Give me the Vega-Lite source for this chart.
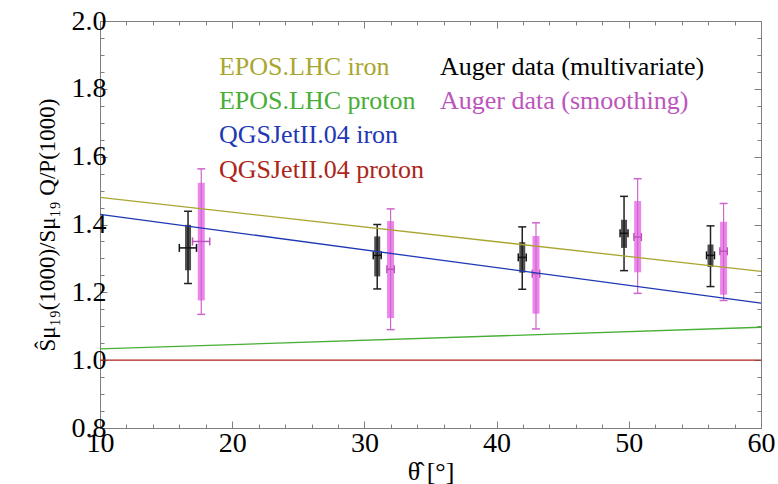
{
  "$schema": "https://vega.github.io/schema/vega-lite/v6.json",
  "width": 661,
  "height": 407,
  "autosize": {"type": "none"},
  "padding": {"left": 100, "top": 21, "right": 17, "bottom": 56},
  "background": "white",
  "config": {
    "view": {"stroke": "#7f7f7f", "strokeWidth": 1},
    "font": "Liberation Serif",
    "axis": {"labelFont": "Liberation Serif", "titleFont": "Liberation Serif"},
    "text": {"font": "Liberation Serif"}
  },
  "datasets": {
    "models": [
      {"model": "EPOS.LHC iron", "theta": 10, "ratio": 1.48},
      {"model": "EPOS.LHC iron", "theta": 60, "ratio": 1.262},
      {"model": "EPOS.LHC proton", "theta": 10, "ratio": 1.033},
      {"model": "EPOS.LHC proton", "theta": 60, "ratio": 1.097},
      {"model": "QGSJetII.04 iron", "theta": 10, "ratio": 1.43},
      {"model": "QGSJetII.04 iron", "theta": 60, "ratio": 1.168},
      {"model": "QGSJetII.04 proton", "theta": 10, "ratio": 1.0},
      {"model": "QGSJetII.04 proton", "theta": 60, "ratio": 1.0}
    ],
    "auger": [
      {"set": "multivariate", "theta": 16.66, "val": 1.331, "sys_lo": 1.265, "sys_hi": 1.399, "tot_lo": 1.226, "tot_hi": 1.439, "th_lo": 16.0, "th_hi": 17.3},
      {"set": "multivariate", "theta": 30.97, "val": 1.309, "sys_lo": 1.247, "sys_hi": 1.365, "tot_lo": 1.21, "tot_hi": 1.40, "th_lo": 30.67, "th_hi": 31.27},
      {"set": "multivariate", "theta": 41.94, "val": 1.303, "sys_lo": 1.258, "sys_hi": 1.348, "tot_lo": 1.209, "tot_hi": 1.393, "th_lo": 41.64, "th_hi": 42.24},
      {"set": "multivariate", "theta": 49.64, "val": 1.374, "sys_lo": 1.331, "sys_hi": 1.414, "tot_lo": 1.264, "tot_hi": 1.483, "th_lo": 49.34, "th_hi": 49.94},
      {"set": "multivariate", "theta": 56.18, "val": 1.309, "sys_lo": 1.275, "sys_hi": 1.341, "tot_lo": 1.217, "tot_hi": 1.396, "th_lo": 55.88, "th_hi": 56.48},
      {"set": "smoothing", "theta": 17.66, "val": 1.35, "sys_lo": 1.176, "sys_hi": 1.523, "tot_lo": 1.135, "tot_hi": 1.564, "th_lo": 17.0, "th_hi": 18.3},
      {"set": "smoothing", "theta": 31.98, "val": 1.268, "sys_lo": 1.124, "sys_hi": 1.41, "tot_lo": 1.09, "tot_hi": 1.446, "th_lo": 31.7, "th_hi": 32.26},
      {"set": "smoothing", "theta": 42.98, "val": 1.255, "sys_lo": 1.137, "sys_hi": 1.366, "tot_lo": 1.092, "tot_hi": 1.405, "th_lo": 42.7, "th_hi": 43.26},
      {"set": "smoothing", "theta": 50.67, "val": 1.363, "sys_lo": 1.259, "sys_hi": 1.469, "tot_lo": 1.197, "tot_hi": 1.535, "th_lo": 50.39, "th_hi": 50.95},
      {"set": "smoothing", "theta": 57.17, "val": 1.321, "sys_lo": 1.193, "sys_hi": 1.408, "tot_lo": 1.176, "tot_hi": 1.462, "th_lo": 56.89, "th_hi": 57.45}
    ],
    "labels": [
      {"model": "EPOS.LHC iron", "theta": 19.0, "ratio": 1.84},
      {"model": "EPOS.LHC proton", "theta": 19.0, "ratio": 1.74},
      {"model": "QGSJetII.04 iron", "theta": 19.0, "ratio": 1.64},
      {"model": "QGSJetII.04 proton", "theta": 19.0, "ratio": 1.538},
      {"model": "Auger data (multivariate)", "theta": 35.72, "ratio": 1.84},
      {"model": "Auger data (smoothing)", "theta": 35.72, "ratio": 1.74}
    ]
  },
  "layer": [
    {
      "data": {"name": "auger"},
      "mark": {"type": "rule"},
      "encoding": {
        "x": {"field": "theta", "type": "quantitative", "scale": {"domain": [10, 60], "nice": false, "zero": false}, "axis": null},
        "y": {"field": "sys_lo", "type": "quantitative", "scale": {"domain": [0.8, 2.0], "nice": false, "zero": false}, "axis": null},
        "y2": {"field": "sys_hi"},
        "color": {"condition": {"test": "datum.set === 'multivariate'", "value": "#505050"}, "value": "#EC86EC"},
        "strokeWidth": {"condition": {"test": "datum.set === 'multivariate'", "value": 6}, "value": 7}
      }
    },
    {
      "data": {"name": "auger"},
      "mark": {"type": "rule"},
      "encoding": {
        "x": {"field": "theta", "type": "quantitative", "scale": {"domain": [10, 60], "nice": false, "zero": false}, "axis": null},
        "y": {"field": "tot_lo", "type": "quantitative", "scale": {"domain": [0.8, 2.0], "nice": false, "zero": false}, "axis": null},
        "y2": {"field": "tot_hi"},
        "color": {"condition": {"test": "datum.set === 'multivariate'", "value": "#222222"}, "value": "#CC66CC"},
        "strokeWidth": {"condition": {"test": "datum.set === 'multivariate'", "value": 1.5}, "value": 1.2}
      }
    },
    {
      "data": {"name": "auger"},
      "mark": {"type": "tick", "orient": "horizontal", "size": 8, "thickness": 1.5, "opacity": 1},
      "encoding": {
        "x": {"field": "theta", "type": "quantitative", "scale": {"domain": [10, 60], "nice": false, "zero": false}, "axis": null},
        "y": {"field": "tot_lo", "type": "quantitative", "scale": {"domain": [0.8, 2.0], "nice": false, "zero": false}, "axis": null},
        "color": {"condition": {"test": "datum.set === 'multivariate'", "value": "#222222"}, "value": "#CC66CC"}
      }
    },
    {
      "data": {"name": "auger"},
      "mark": {"type": "tick", "orient": "horizontal", "size": 8, "thickness": 1.5, "opacity": 1},
      "encoding": {
        "x": {"field": "theta", "type": "quantitative", "scale": {"domain": [10, 60], "nice": false, "zero": false}, "axis": null},
        "y": {"field": "tot_hi", "type": "quantitative", "scale": {"domain": [0.8, 2.0], "nice": false, "zero": false}, "axis": null},
        "color": {"condition": {"test": "datum.set === 'multivariate'", "value": "#222222"}, "value": "#CC66CC"}
      }
    },
    {
      "data": {"name": "auger"},
      "mark": {"type": "rule", "strokeWidth": 1.5},
      "encoding": {
        "x": {"field": "th_lo", "type": "quantitative", "scale": {"domain": [10, 60], "nice": false, "zero": false}, "axis": null},
        "x2": {"field": "th_hi"},
        "y": {"field": "val", "type": "quantitative", "scale": {"domain": [0.8, 2.0], "nice": false, "zero": false}, "axis": null},
        "color": {"condition": {"test": "datum.set === 'multivariate'", "value": "#111111"}, "value": "#BB55BB"}
      }
    },
    {
      "data": {"name": "auger"},
      "mark": {"type": "tick", "orient": "vertical", "size": 8, "thickness": 1.5, "opacity": 1},
      "encoding": {
        "x": {"field": "th_lo", "type": "quantitative", "scale": {"domain": [10, 60], "nice": false, "zero": false}, "axis": null},
        "y": {"field": "val", "type": "quantitative", "scale": {"domain": [0.8, 2.0], "nice": false, "zero": false}, "axis": null},
        "color": {"condition": {"test": "datum.set === 'multivariate'", "value": "#111111"}, "value": "#BB55BB"}
      }
    },
    {
      "data": {"name": "auger"},
      "mark": {"type": "tick", "orient": "vertical", "size": 8, "thickness": 1.5, "opacity": 1},
      "encoding": {
        "x": {"field": "th_hi", "type": "quantitative", "scale": {"domain": [10, 60], "nice": false, "zero": false}, "axis": null},
        "y": {"field": "val", "type": "quantitative", "scale": {"domain": [0.8, 2.0], "nice": false, "zero": false}, "axis": null},
        "color": {"condition": {"test": "datum.set === 'multivariate'", "value": "#111111"}, "value": "#BB55BB"}
      }
    },
    {
      "data": {"name": "models"},
      "mark": {"type": "line", "strokeWidth": 1.3},
      "encoding": {
        "x": {
          "field": "theta", "type": "quantitative",
          "scale": {"domain": [10, 60], "nice": false, "zero": false},
          "axis": {
            "orient": "bottom",
            "values": [10, 12, 14, 16, 18, 20, 22, 24, 26, 28, 30, 32, 34, 36, 38, 40, 42, 44, 46, 48, 50, 52, 54, 56, 58, 60],
            "labelExpr": "datum.value % 10 === 0 ? datum.label : ''",
            "domain": false, "grid": false,
            "tickColor": "#7f7f7f",
            "tickSize": {"condition": {"test": "datum.value % 10 === 0", "value": -7}, "value": -4},
            "labelFont": "Liberation Serif", "labelFontSize": 28, "labelColor": "#000000",
            "labelPadding": 8, "labelFlush": false, "labelOverlap": false, "labelBound": false,
            "title": "θ̂ [°]",
            "titleFont": "Liberation Serif", "titleFontSize": 26, "titleFontWeight": "normal", "titleColor": "#000000",
            "titlePadding": -2
          }
        },
        "y": {
          "field": "ratio", "type": "quantitative",
          "scale": {"domain": [0.8, 2.0], "nice": false, "zero": false},
          "axis": {
            "orient": "left",
            "values": [0.8, 0.85, 0.9, 0.95, 1.0, 1.05, 1.1, 1.15, 1.2, 1.25, 1.3, 1.35, 1.4, 1.45, 1.5, 1.55, 1.6, 1.65, 1.7, 1.75, 1.8, 1.85, 1.9, 1.95, 2.0],
            "labelExpr": "abs(datum.value * 5 - round(datum.value * 5)) < 0.001 ? format(datum.value, '.1f') : ''",
            "domain": false, "grid": false,
            "tickColor": "#7f7f7f",
            "tickSize": {"condition": {"test": "abs(datum.value * 5 - round(datum.value * 5)) < 0.001", "value": -7}, "value": -4},
            "labelFont": "Liberation Serif", "labelFontSize": 28, "labelColor": "#000000",
            "labelPadding": 1, "labelFlush": false, "labelOverlap": false, "labelBound": false,
            "title": "Ŝμ₁₉(1000)/Sμ₁₉ Q/P(1000)",
            "titleFont": "Liberation Serif", "titleFontSize": 23, "titleFontWeight": "normal", "titleColor": "#000000",
            "titlePadding": 12
          }
        },
        "color": {
          "field": "model", "type": "nominal",
          "scale": {
            "domain": ["EPOS.LHC iron", "EPOS.LHC proton", "QGSJetII.04 iron", "QGSJetII.04 proton", "Auger data (multivariate)", "Auger data (smoothing)"],
            "range": ["#A9A630", "#48AE36", "#1F38B4", "#AC2619", "#000000", "#BC55BC"]
          },
          "legend": null
        }
      }
    },
    {
      "data": {"name": "labels"},
      "mark": {"type": "text", "align": "left", "baseline": "alphabetic", "font": "Liberation Serif", "fontSize": 26},
      "encoding": {
        "x": {
          "field": "theta", "type": "quantitative",
          "scale": {"domain": [10, 60], "nice": false, "zero": false},
          "axis": {
            "orient": "top",
            "values": [10, 12, 14, 16, 18, 20, 22, 24, 26, 28, 30, 32, 34, 36, 38, 40, 42, 44, 46, 48, 50, 52, 54, 56, 58, 60],
            "labels": false, "domain": false, "grid": false, "title": null,
            "tickColor": "#7f7f7f",
            "tickSize": {"condition": {"test": "datum.value % 10 === 0", "value": -7}, "value": -4}
          }
        },
        "y": {
          "field": "ratio", "type": "quantitative",
          "scale": {"domain": [0.8, 2.0], "nice": false, "zero": false},
          "axis": {
            "orient": "right",
            "values": [0.8, 0.85, 0.9, 0.95, 1.0, 1.05, 1.1, 1.15, 1.2, 1.25, 1.3, 1.35, 1.4, 1.45, 1.5, 1.55, 1.6, 1.65, 1.7, 1.75, 1.8, 1.85, 1.9, 1.95, 2.0],
            "labels": false, "domain": false, "grid": false, "title": null,
            "tickColor": "#7f7f7f",
            "tickSize": {"condition": {"test": "abs(datum.value * 5 - round(datum.value * 5)) < 0.001", "value": -7}, "value": -4}
          }
        },
        "text": {"field": "model"},
        "color": {
          "field": "model", "type": "nominal",
          "scale": {
            "domain": ["EPOS.LHC iron", "EPOS.LHC proton", "QGSJetII.04 iron", "QGSJetII.04 proton", "Auger data (multivariate)", "Auger data (smoothing)"],
            "range": ["#A9A630", "#48AE36", "#1F38B4", "#AC2619", "#000000", "#BC55BC"]
          },
          "legend": null
        }
      }
    }
  ]
}
